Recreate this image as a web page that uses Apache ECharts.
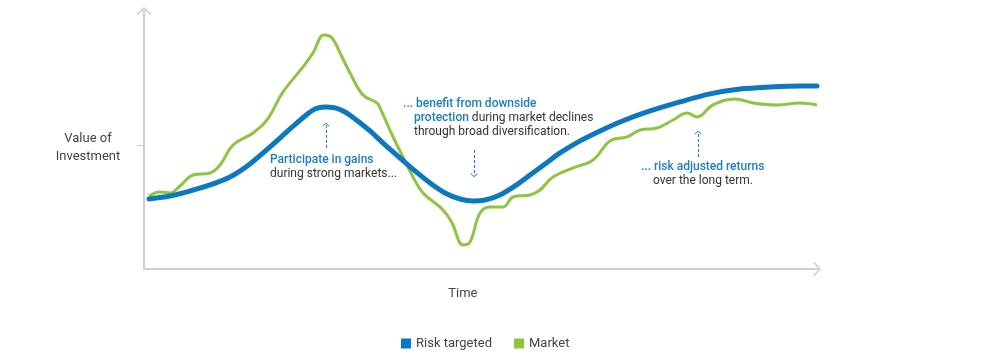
<!DOCTYPE html>
<html>
<head>
<meta charset="utf-8">
<script src="https://cdn.jsdelivr.net/npm/echarts@6/dist/echarts.min.js"></script>
<style>
  html, body { margin: 0; padding: 0; background: #fff; }
  #chart { width: 984px; height: 354px; }
</style>
</head>
<body>
<div id="chart"></div>
<script>
// time (0..~100) / value of investment
const riskTargeted = [
  [0.74, 1.13], [3.84, 1.177], [6.79, 1.258], [9.75, 1.355], [12.7, 1.484],
  [15.66, 1.694], [18.61, 1.968], [21.57, 2.258], [23.78, 2.468], [25.26, 2.581],
  [26.74, 2.613], [28.21, 2.597], [29.69, 2.532], [31.17, 2.419], [33.38, 2.226],
  [35.6, 2.0], [37.81, 1.79], [40.03, 1.581], [42.25, 1.387], [44.46, 1.226],
  [46.68, 1.129], [48.6, 1.097], [50.37, 1.113], [52.58, 1.194], [54.8, 1.339],
  [57.02, 1.516], [59.23, 1.694], [61.45, 1.871], [64.4, 2.065], [67.36, 2.226],
  [70.31, 2.371], [74.74, 2.548], [79.17, 2.694], [83.6, 2.823], [88.03, 2.903],
  [92.46, 2.935], [96.9, 2.952], [99.4, 2.952]
];
const market = [
  [0.74, 1.177], [2.36, 1.242], [3.84, 1.226], [5.32, 1.339], [7.24, 1.516],
  [9.75, 1.548], [11.23, 1.677], [13.15, 2.0], [16.10, 2.194], [18.17, 2.403],
  [20.53, 2.855], [23.49, 3.258], [24.96, 3.484], [26.59, 3.774], [27.77, 3.726],
  [28.95, 3.484], [30.43, 3.161], [32.35, 2.806], [34.42, 2.677], [34.86, 2.597],
  [36.78, 2.129], [38.26, 1.806], [39.73, 1.484], [41.21, 1.226], [44.17, 0.952],
  [45.49, 0.742], [47.12, 0.387], [48.15, 0.435], [49.63, 0.903], [51.11, 1.0],
  [53.03, 1.0], [54.51, 1.161], [57.02, 1.194], [58.49, 1.274], [60.41, 1.484],
  [63.37, 1.629], [66.32, 1.758], [68.83, 2.065], [71.34, 2.129], [73.26, 2.242],
  [75.78, 2.274], [78.14, 2.403], [80.21, 2.516], [81.68, 2.452], [84.05, 2.645],
  [87.30, 2.742], [89.96, 2.677], [93.5, 2.645], [96.9, 2.677], [99.4, 2.645]
];
const seriesNames = ["Risk targeted", "Market"];
const yTickValues = [2];
const yLabelValues = [1.95];
const xLabelValues = [47.1];

// dashed arrows: [x, from, to]
const arrows = [
  [26.88, 1.952, 2.33],
  [48.74, 1.919, 1.51],
  [81.83, 1.806, 2.20]
];
// annotation text blocks: [x, top, text]
const notes = [
  [18.61, 1.871, "{hl|Participate in gains}\n{tx|during strong markets...}"],
  [38.26, 2.774, "{hl|... benefit from downside}"],
  [39.88, 2.548, "{hl|protection}{tx| during market declines}\n{tx|through broad diversification.}"],
  [73.41, 1.758, "{hl|... risk adjusted returns}"],
  [75.18, 1.532, "{tx|over the long term.}"]
];

const BLUE = "#0b78c0";
const GREEN = "#8cc53f";
const NOTE_BLUE = "#1a7ec4";
const AXIS = "#cfcfcf";
const FONT = "Roboto";
const chevron = "path://M0 7.2L8 0L16 7.2L14.8 8.4L8 2.3L1.2 8.4Z";

const chart = echarts.init(document.getElementById("chart"));

const option = {
  animation: false,
  textStyle: { fontFamily: FONT },
  grid: { left: 144, right: 167, top: 11, bottom: 85, containLabel: false },
  legend: {
    left: 396,
    top: 332,
    icon: "rect",
    itemWidth: 10,
    itemHeight: 10,
    itemGap: 22,
    textStyle: { fontSize: 13, color: "#444", fontFamily: FONT },
    data: seriesNames
  },
  xAxis: {
    type: "value",
    min: 0,
    max: 99.4,
    axisLine: {
      show: true,
      symbol: ["none", chevron],
      symbolSize: [15, 8],
      lineStyle: { color: AXIS, width: 2 }
    },
    axisTick: { show: false },
    splitLine: { show: false },
    axisLabel: {
      customValues: xLabelValues,
      formatter: () => "Time",
      margin: 18,
      fontSize: 13,
      color: "#444",
      fontFamily: FONT
    }
  },
  yAxis: {
    type: "value",
    min: 0,
    max: 4.16,
    interval: 1,
    axisLine: {
      show: true,
      symbol: ["none", chevron],
      symbolSize: [15, 8],
      lineStyle: { color: AXIS, width: 2 }
    },
    axisTick: {
      show: true,
      customValues: yTickValues,
      length: 7,
      lineStyle: { color: AXIS, width: 1 }
    },
    splitLine: {
      show: true,
      showMinLine: false,
      showMaxLine: false,
      lineStyle: { color: "#f2f2f2", width: 2 }
    },
    axisLabel: {
      customValues: yLabelValues,
      formatter: () => "Value of\nInvestment",
      align: "center",
      margin: 56,
      lineHeight: 18,
      fontSize: 13,
      color: "#444",
      fontFamily: FONT
    }
  },
  series: [
    {
      name: seriesNames[0],
      type: "line",
      data: riskTargeted,
      smooth: 0.3,
      showSymbol: false,
      z: 3,
      itemStyle: { color: BLUE },
      lineStyle: { color: BLUE, width: 5, cap: "round", join: "round" },
      markLine: {
        silent: true,
        symbol: ["none", chevron],
        symbolSize: [7, 4],
        label: { show: false },
        lineStyle: { color: NOTE_BLUE, width: 1, type: [3, 2] },
        data: arrows.map(a => [
          { coord: [a[0], a[1]] },
          { coord: [a[0], a[2]] }
        ])
      },
      markPoint: {
        silent: true,
        symbol: "circle",
        symbolSize: 0,
        data: notes.map(n => ({
          coord: [n[0], n[1]],
          label: {
            show: true,
            position: [0, 0],
            align: "left",
            verticalAlign: "top",
            formatter: () => n[2],
            rich: {
              hl: { color: NOTE_BLUE, fontSize: 12, fontWeight: 500, lineHeight: 14, fontFamily: FONT },
              tx: { color: "#333", fontSize: 12, lineHeight: 14, fontFamily: FONT }
            }
          }
        }))
      }
    },
    {
      name: seriesNames[1],
      type: "line",
      data: market,
      smooth: 0.4,
      showSymbol: false,
      z: 2,
      itemStyle: { color: GREEN },
      lineStyle: { color: GREEN, width: 3, join: "round" }
    }
  ]
};

chart.setOption(option);
</script>
</body>
</html>
